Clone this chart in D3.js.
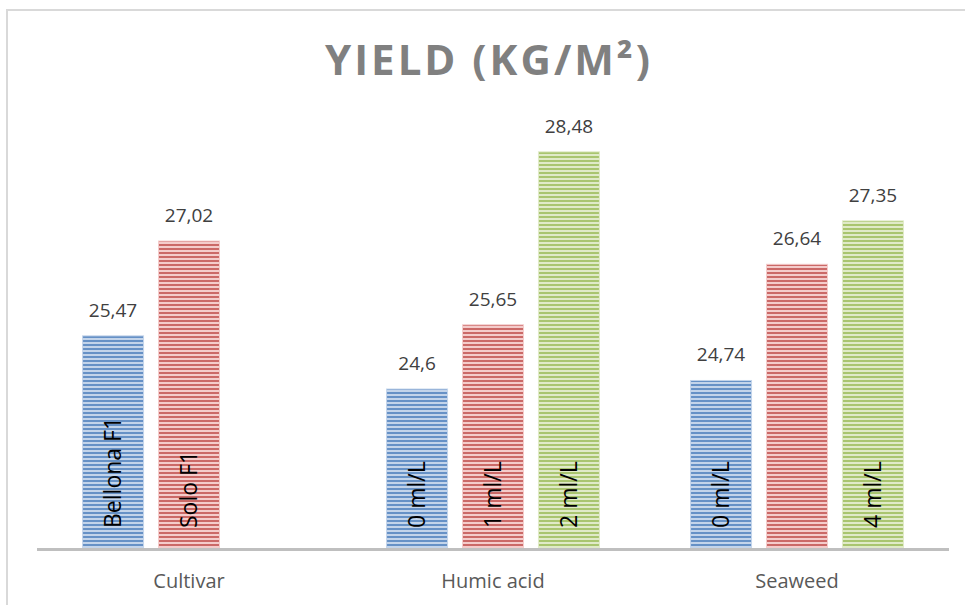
<!DOCTYPE html>
<html>
<head>
<meta charset="utf-8">
<script src="https://cdn.jsdelivr.net/npm/d3@7"></script>
<style>
body { margin:0; background:#fff; }
svg { display:block; font-family:"Open Sans", sans-serif; }
</style>
</head>
<body>
<div id="chart"></div>
<script>
var categories = ["Cultivar", "Humic acid", "Seaweed"];
var slots = ["s1", "s2", "s3"];
// values per slot, one per category (null = no bar)
var slot1Values = [25.47, 24.6, 24.74];
var slot2Values = [27.02, 25.65, 26.64];
var slot3Values = [null, 28.48, 27.35];
var slot1Labels = ["Bellona F1", "0 ml/L", "0 ml/L"];
var slot2Labels = ["Solo F1", "1 ml/L", ""];
var slot3Labels = ["", "2 ml/L", "4 ml/L"];
var yDomain = [22, 29];

var width = 965, height = 605;
var colors = {
  s1: {dark:"#4f81bd", light:"#c3d4ea"},
  s2: {dark:"#c0504d", light:"#f4cccb"},
  s3: {dark:"#9bbb59", light:"#e0eac8"}
};

var bars = [];
var allValues = [slot1Values, slot2Values, slot3Values];
var allLabels = [slot1Labels, slot2Labels, slot3Labels];
categories.forEach(function(c, i){
  slots.forEach(function(s, j){
    if (allValues[j][i] != null)
      bars.push({cat:c, slot:s, value:allValues[j][i], label:allLabels[j][i]});
  });
});

var svg = d3.select('#chart').append('svg')
  .attr('width', width).attr('height', height);

var defs = svg.append('defs');
slots.forEach(function(s){
  var p = defs.append('pattern')
    .attr('id', 'pat-' + s)
    .attr('patternUnits', 'userSpaceOnUse')
    .attr('width', 8).attr('height', 4);
  p.append('rect').attr('width', 8).attr('height', 4).style('fill', colors[s].light);
  p.append('rect').attr('y', 0).attr('width', 8).attr('height', 2).style('fill', colors[s].dark).style('opacity', 0.8);
});

// chart frame
svg.append('rect')
  .attr('x', 7).attr('y', 10)
  .attr('width', 1000).attr('height', 1000)
  .style('fill', 'none')
  .style('stroke', '#d9d9d9')
  .style('stroke-width', 2);

var x0 = d3.scaleBand().domain(categories).range([37, 949]);
var x1 = d3.scaleBand().domain(slots).range([0, x0.bandwidth()])
  .paddingInner(0.197).paddingOuter(0.6);
var y = d3.scaleLinear().domain(yDomain).range([548, 120]);

// title
svg.append('text')
  .attr('x', 489).attr('y', 75)
  .attr('text-anchor', 'middle')
  .style('font-size', '42px')
  .style('font-weight', 'bold')
  .style('letter-spacing', '3px')
  .style('fill', '#808080')
  .text('YIELD (KG/M²)');

var g = svg.append('g');

g.selectAll('rect.bar')
  .data(bars)
  .enter()
  .append('rect')
  .attr('class', 'bar')
  .attr('x', function(d){ return x0(d.cat) + x1(d.slot); })
  .attr('y', function(d){ return y(d.value); })
  .attr('width', x1.bandwidth())
  .attr('height', function(d){ return y(yDomain[0]) - y(d.value); })
  .style('fill', function(d){ return 'url(#pat-' + d.slot + ')'; })
  .style('stroke', function(d){ return colors[d.slot].light; })
  .style('stroke-width', 1);

// value labels
g.selectAll('text.val')
  .data(bars)
  .enter()
  .append('text')
  .attr('class', 'val')
  .attr('x', function(d){ return x0(d.cat) + x1(d.slot) + x1.bandwidth()/2; })
  .attr('y', function(d){ return y(d.value) - 19; })
  .attr('text-anchor', 'middle')
  .style('font-size', '19px')
  .style('fill', '#404040')
  .text(function(d){ return String(d.value).replace('.', ','); });

// labels inside bars
g.selectAll('text.inside')
  .data(bars.filter(function(d){ return d.label; }))
  .enter()
  .append('text')
  .attr('class', 'inside')
  .attr('transform', function(d){
    var cx = x0(d.cat) + x1(d.slot) + x1.bandwidth()/2;
    return 'translate(' + cx + ',' + (y(yDomain[0]) - 20) + ') rotate(-90)';
  })
  .attr('dy', '0.36em')
  .style('font-size', '23px')
  .style('fill', '#000')
  .text(function(d){ return d.label; });

// baseline
svg.append('line')
  .attr('x1', 37).attr('x2', 949)
  .attr('y1', 549.5).attr('y2', 549.5)
  .style('stroke', '#bfbfbf')
  .style('stroke-width', 3);

// category labels
svg.selectAll('text.cat')
  .data(categories)
  .enter()
  .append('text')
  .attr('class', 'cat')
  .attr('x', function(d){ return x0(d) + x0.bandwidth()/2; })
  .attr('y', 588)
  .attr('text-anchor', 'middle')
  .style('font-size', '20px')
  .style('fill', '#595959')
  .text(function(d){ return d; });
</script>
</body>
</html>
